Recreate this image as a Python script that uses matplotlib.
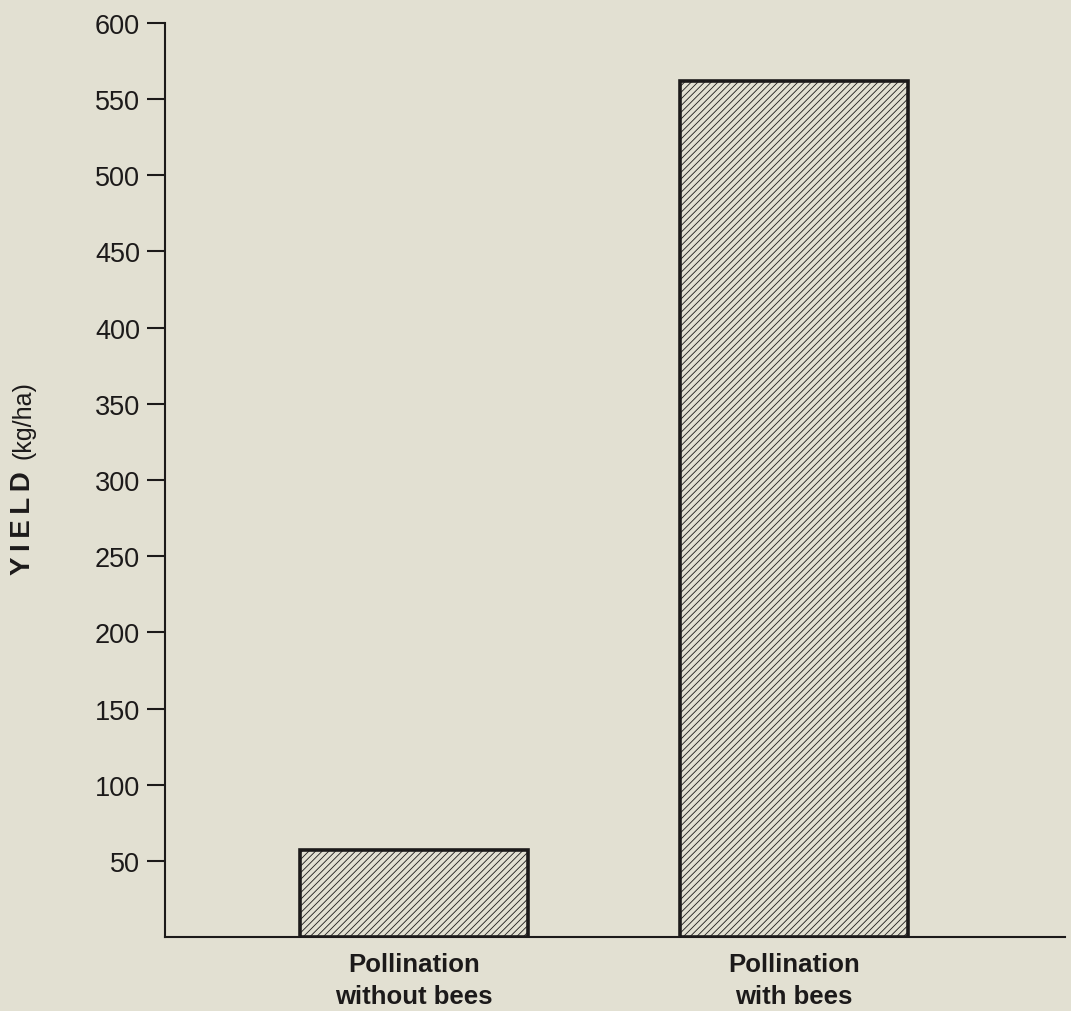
import matplotlib.pyplot as plt

categories = ["Pollination\nwithout bees", "Pollination\nwith bees"]
yields = [57, 562]
yticks = [50, 100, 150, 200, 250, 300, 350, 400, 450, 500, 550, 600]

bg = "#e2e0d2"
ink = "#1c1a1a"

plt.rcParams['font.family'] = ['Liberation Sans', 'DejaVu Sans']
plt.rcParams['hatch.linewidth'] = 0.6
plt.rcParams['hatch.color'] = "#2e2c2c"

fig = plt.figure(figsize=(10.71, 10.12), dpi=100, facecolor=bg)
ax = fig.add_axes([0.154, 0.0731, 0.84, 0.9032], facecolor=bg)

xs = list(range(len(categories)))
ax.bar(xs, yields, width=0.6, color=bg, edgecolor=ink, linewidth=2.6,
       hatch="/////", zorder=3)

ax.set_xlim(-0.655, 1.713)
ax.set_ylim(0, 600)
ax.set_yticks(yticks)
ax.set_yticklabels([str(t) for t in yticks], fontsize=19.5, color=ink)
ax.set_xticks(xs)
ax.set_xticklabels(categories, fontsize=18.5, fontweight='bold', color=ink,
                   linespacing=1.38)
ax.tick_params(axis='y', direction='out', length=13, width=1.5, color=ink, pad=5)
ax.tick_params(axis='x', length=0, pad=11)

for side in ['top', 'right']:
    ax.spines[side].set_visible(False)
for side in ['left', 'bottom']:
    ax.spines[side].set_color(ink)
    ax.spines[side].set_linewidth(1.5)

# y label: bold "YIELD" with loose spacing, lighter unit text above it
fig.text(0.0215, 1 - 523 / 1012, "Y\u2009I\u2009E\u2009L\u2009D", rotation=90,
         ha='center', va='center', fontsize=20, fontweight='bold', color=ink)
fig.text(0.0215, 1 - 420 / 1012, "(kg/ha)", rotation=90,
         ha='center', va='center', fontsize=18, color=ink)

fig.savefig("out.png", dpi=100, facecolor=bg)
